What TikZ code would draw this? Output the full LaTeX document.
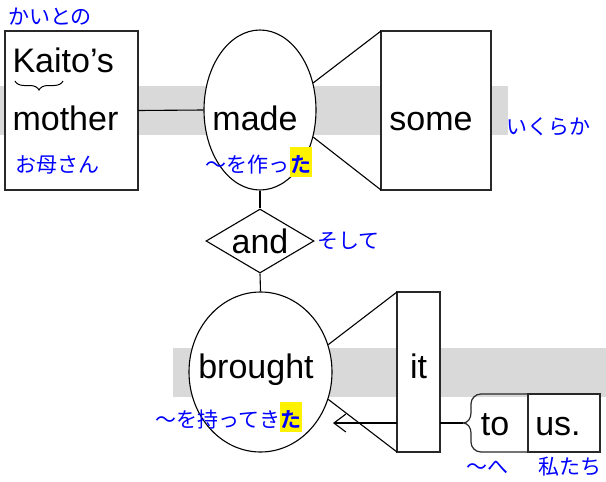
\documentclass[tikz,border=0pt]{standalone}
\usepackage{fontspec}
\setmainfont{Liberation Sans}
\newfontfamily\jp{Noto Sans CJK JP}[BoldFont={Noto Sans CJK JP Bold}]
\usetikzlibrary{positioning,shapes.geometric,decorations.pathreplacing,arrows.meta}
\definecolor{bandgray}{RGB}{217,217,217}
\definecolor{glossblue}{RGB}{0,0,255}
\definecolor{lineblk}{RGB}{40,40,40}
\newcommand{\hlta}{{\setlength{\fboxsep}{0.5pt}\colorbox{yellow}{\rule[-0.2em]{0pt}{1.35em}\textbf{た}}}}

\begin{document}
\begin{tikzpicture}[x=1pt, y=1pt, node distance = 0pt, line width=1.1pt,
BoxStyle/.style={draw=lineblk, fill=white, line width=1.2pt, inner sep=0pt,
                outer sep=0pt},
OvalStyle/.style={ellipse, draw=black, fill=white, inner sep=0pt},
WordStyle/.style={font=\fontsize{34}{40}\selectfont, inner sep=0pt, anchor=base},
GlossStyle/.style={font=\jp\fontsize{21}{25}\selectfont, text=glossblue,
                inner sep=0pt, anchor=base},]
\useasboundingbox (0,0) rectangle (606,-482);
% gray bands
\fill[bandgray] (0,-86) rectangle (508,-135);
\fill[bandgray] (173,-348) rectangle (606,-397);
% boxes and ovals
\node [BoxStyle, minimum width=133pt, minimum height=159pt] (mo) at (71.5,-110.5) {};
\node [OvalStyle, minimum width=112pt, minimum height=160pt] (ma) at (260,-110) {};
\node [BoxStyle, minimum width=110pt, minimum height=159pt] (so) at (436,-110.5) {};
\node [diamond, shape aspect=1.7, draw, fill=white, inner sep=0pt, minimum width=108pt,
       minimum height=64pt, font=\fontsize{34}{40}\selectfont] (an) at (260,-241) {and};
\node [OvalStyle, minimum width=143pt, minimum height=160pt] (br) at (260.5,-372) {};
\node [BoxStyle, minimum width=43pt, minimum height=160pt] (it) at (418.5,-372) {};
\node [minimum width=57pt, minimum height=58pt, inner sep=0pt, outer sep=0pt] (to) at (499.5,-423) {};
\node [BoxStyle, minimum width=72pt, minimum height=58pt, right=of to] (us) {};
% words
\node [WordStyle, anchor=base west] (ks) at (12,-72) {Kaito’s};
\node [WordStyle, anchor=base west] (mt) at (12,-130) {mother};
\node [WordStyle] (md) at (255,-130) {made};
\node [WordStyle] (sm) at (431,-130) {some};
\node [WordStyle] (bg) at (256,-378) {brought};
\node [WordStyle] (ii) at (418.5,-378) {it};
\node [WordStyle] (tt) at (495,-435) {to};
\node [WordStyle] (uu) at (558,-435) {us.};
\draw[decorate, decoration={brace, mirror, amplitude=9pt}, line width=1pt] (15,-81) -- (63,-81);
% connectors
\draw (mo.east) -- (ma.west);
\draw (ma.27) -- (so.north west);
\draw (ma.-27) -- (so.south west);
\draw (ma.south) -- (an.north);
\draw (an.south) -- (br.north);
\draw (br.22) -- (it.north west);
\draw (br.-22) -- (it.south west);
\draw[draw=lineblk, line width=1.2pt] (us.north west) -- ++(-47,0) to[out=180,in=90] ++(-10,-10)
  -- ++(0,-9) to[out=-90,in=0] ++(-8,-10) coordinate (tb) to[out=0,in=90] ++(8,-10)
  -- ++(0,-9) to[out=-90,in=180] ++(10,-10) -- (us.south west);
\coordinate (tip) at (333,-423);
\draw (tb) -- (it.east |- tb);
\draw[-{Straight Barb[length=12pt,width=18pt]}] (it.west |- tb) -- (tip);
% glosses
\node [GlossStyle] (g1) at (50,-24) {かいとの};
\node [GlossStyle] (g2) at (57.5,-172) {お母さん};
\node [GlossStyle] (g3) at (258.5,-172) {〜を作っ\hlta};
\node [GlossStyle] (g4) at (548,-134) {いくらか};
\node [GlossStyle] (g5) at (348.5,-248) {そして};
\node [GlossStyle] (g6) at (229,-427) {〜を持ってき\hlta};
\node [GlossStyle] (g7) at (487.5,-474) {〜へ};
\node [GlossStyle] (g8) at (570,-474) {私たち};
\end{tikzpicture}
\end{document}
